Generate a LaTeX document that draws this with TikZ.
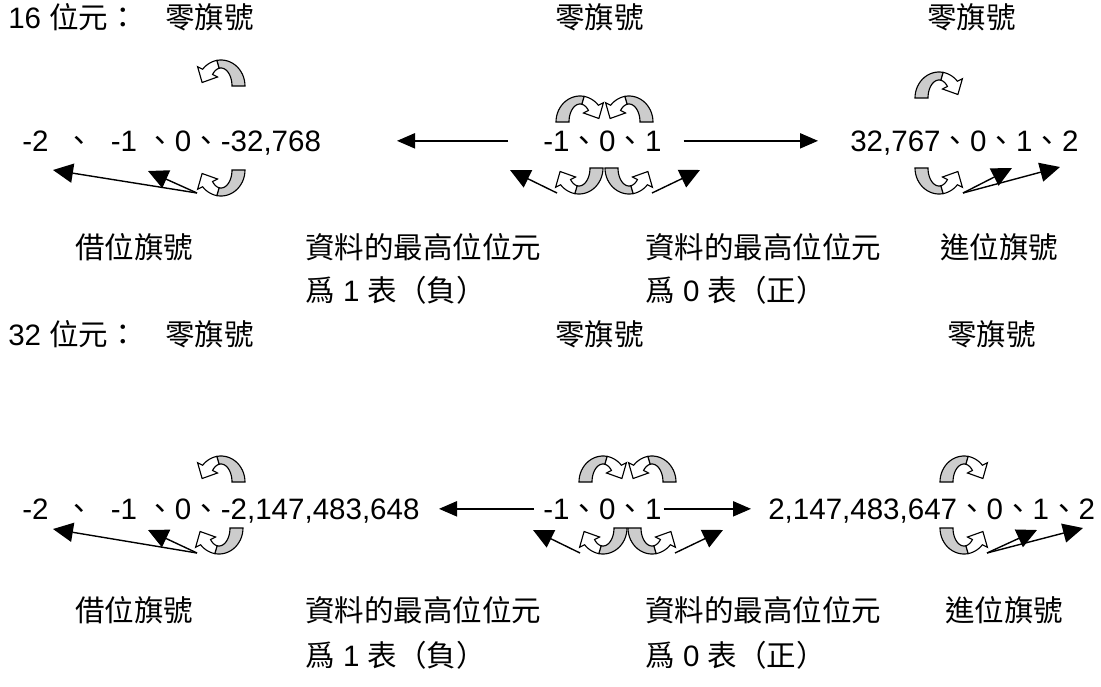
\documentclass[tikz,border=0pt]{standalone}
\usepackage{fontspec}
\setmainfont{Liberation Sans}
\newfontfamily\cjkfont{Noto Sans CJK TC}
\usepackage{tikz}
\usetikzlibrary{arrows.meta}
\definecolor{bandgray}{gray}{0.8}
\newcommand{\zh}[1]{{\cjkfont #1}}

\begin{document}
\begin{tikzpicture}[x=0.025cm, y=0.025cm,
  txt/.style={font=\fontsize{21}{25}\selectfont, inner sep=0pt, anchor=base west},
  flow/.style={-{Triangle[length=0.45cm, width=0.38cm]}, line width=1pt},
  flowb/.style={-{Triangle[length=0.5cm, width=0.48cm]}, line width=1pt},
  flagarc/.pic={
    \filldraw[fill=bandgray, line width=0.8pt]
      plot[domain=0:100, samples=16] ({24*cos(\x)}, {26*sin(\x)})
      -- plot[domain=100:0, samples=16] ({11*cos(\x)}, {18*sin(\x)}) -- cycle;
    \filldraw[fill=white, line width=0.8pt]
      plot[domain=100:140, samples=8] ({24*cos(\x)}, {26*sin(\x)})
      -- (-23.4,19.3) -- (-18.9,3.5) -- (-3.5,9.0)
      -- plot[domain=140:100, samples=8] ({11*cos(\x)}, {18*sin(\x)}) -- cycle;
  }]
  \useasboundingbox (0,0) rectangle (1101,-686);
  % 16 bit
  \node[txt] (t16) at (8,-28) {16 \zh{位元：}};
  \node[txt] (z16a) at (165,-28) {\zh{零旗號}};
  \node[txt] (z16b) at (555,-28) {\zh{零旗號}};
  \node[txt] (z16c) at (927,-28) {\zh{零旗號}};
  \node[txt] (n16a) at (22,-151) {-2\ \ \zh{、}\ \ -1\ \zh{、}0\zh{、}-32,768};
  \node[txt] (n16b) at (543,-151) {-1\zh{、}0\zh{、}1};
  \node[txt] (n16c) at (850,-151) {32,767\zh{、}0\zh{、}1\zh{、}2};
  \node[txt] (b16) at (75,-258) {\zh{借位旗號}};
  \node[txt] (m16a) at (305,-258) {\zh{資料的最高位位元}};
  \node[txt] (m16b) at (305,-301) {\zh{爲} 1 \zh{表（負）}};
  \node[txt] (p16a) at (645,-258) {\zh{資料的最高位位元}};
  \node[txt] (p16b) at (645,-301) {\zh{爲} 0 \zh{表（正）}};
  \node[txt] (c16) at (940,-258) {\zh{進位旗號}};
  \coordinate (l16) at (397,0);
  \coordinate (r16) at (818,0);
  \draw[flow] (n16b.west) ++(-35,0) -- (l16 |- n16b.west);
  \draw[flow] (n16b.east) ++(22,0) -- (r16 |- n16b.east);
  \coordinate (s16l) at (197,-193);
  \coordinate (t16l1) at (53,-170);
  \coordinate (t16l2) at (148,-171);
  \coordinate (s16m1) at (557,-193);
  \coordinate (t16m1) at (510,-170);
  \coordinate (s16m2) at (652,-193);
  \coordinate (t16m2) at (700,-170);
  \coordinate (s16r) at (963,-193);
  \coordinate (t16r1) at (1012,-168);
  \coordinate (t16r2) at (1060,-167);
  \foreach \a/\b in {s16l/t16l1,s16l/t16l2,s16m1/t16m1,s16m2/t16m2,s16r/t16r1,s16r/t16r2}
    \draw[flowb] (\a) -- (\b);
  \foreach \ax/\ay/\sx/\sy in {221/86/1/1, 580/122/-1/1, 629/122/1/1, 939/98/-1/1,
      221/170/1/-1, 579/168/1/-1, 629/168/-1/-1, 939/168/-1/-1}
    \pic[xscale=\sx, yscale=\sy] at (\ax,-\ay) {flagarc};
  % 32 bit
  \node[txt] (t32) at (8,-345) {32 \zh{位元：}};
  \node[txt] (z32a) at (165,-345) {\zh{零旗號}};
  \node[txt] (z32b) at (555,-345) {\zh{零旗號}};
  \node[txt] (z32c) at (947,-345) {\zh{零旗號}};
  \node[txt] (n32a) at (22,-519) {-2\ \ \zh{、}\ \ -1\ \zh{、}0\zh{、}-2,147,483,648};
  \node[txt] (n32b) at (543,-519) {-1\zh{、}0\zh{、}1};
  \node[txt] (n32c) at (768,-519) {2,147,483,647\zh{、}0\zh{、}1\zh{、}2};
  \node[txt] (b32) at (75,-621) {\zh{借位旗號}};
  \node[txt] (m32a) at (305,-621) {\zh{資料的最高位位元}};
  \node[txt] (m32b) at (305,-666) {\zh{爲} 1 \zh{表（負）}};
  \node[txt] (p32a) at (645,-621) {\zh{資料的最高位位元}};
  \node[txt] (p32b) at (645,-666) {\zh{爲} 0 \zh{表（正）}};
  \node[txt] (c32) at (945,-621) {\zh{進位旗號}};
  \coordinate (l32) at (439,0);
  \coordinate (r32) at (751,0);
  \draw[flow] (n32b.west) ++(-9,0) -- (l32 |- n32b.west);
  \draw[flow] (n32b.east) ++(2,0) -- (r32 |- n32b.east);
  \coordinate (s32l) at (197,-553);
  \coordinate (t32l1) at (53,-529);
  \coordinate (t32l2) at (148,-530);
  \coordinate (s32m1) at (580,-553);
  \coordinate (t32m1) at (533,-530);
  \coordinate (s32m2) at (675,-553);
  \coordinate (t32m2) at (723,-530);
  \coordinate (s32r) at (987,-553);
  \coordinate (t32r1) at (1037,-530);
  \coordinate (t32r2) at (1083,-528);
  \foreach \a/\b in {s32l/t32l1,s32l/t32l2,s32m1/t32m1,s32m2/t32m2,s32r/t32r1,s32r/t32r2}
    \draw[flowb] (\a) -- (\b);
  \foreach \ax/\ay/\sx/\sy in {221/482/1/1, 603/482/-1/1, 652/482/1/1, 964/482/-1/1,
      219/528/1/-1, 603/528/1/-1, 652/528/-1/-1, 964/528/-1/-1}
    \pic[xscale=\sx, yscale=\sy] at (\ax,-\ay) {flagarc};
\end{tikzpicture}
\end{document}
